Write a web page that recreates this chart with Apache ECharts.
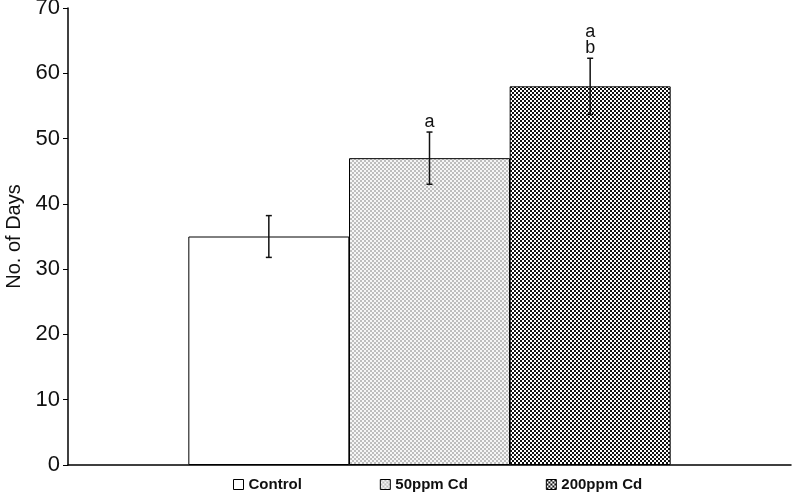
<!DOCTYPE html>
<html>
<head>
    <meta charset="UTF-8">
    <title>No. of Days</title>
    <style>
        body { margin: 0; background: #fff; }
        #chart { width: 793px; height: 494px; }
    </style>
    <script src="https://cdn.jsdelivr.net/npm/echarts@6/dist/echarts.min.js"></script>
</head>
<body>
    <div id="chart"></div>
    <script>
        // data
        const groups = ['Control', '50ppm Cd', '200ppm Cd'];
        const meanDays = [35, 47, 58];
        const errDays = [3.2, 4, 4.3];
        const sigLetters = ['', 'a', 'a\nb'];
        const yTicks = [0, 10, 20, 30, 40, 50, 60, 70];

        // checker fills like the old Excel patterns
        function checker(size, c1, c2) {
            const cv = document.createElement('canvas');
            cv.width = size * 2;
            cv.height = size * 2;
            const ctx = cv.getContext('2d');
            ctx.fillStyle = c1;
            ctx.fillRect(0, 0, size * 2, size * 2);
            ctx.fillStyle = c2;
            ctx.fillRect(0, 0, size, size);
            ctx.fillRect(size, size, size, size);
            return { image: cv, repeat: 'repeat' };
        }

        const fills = [
            '#ffffff',
            checker(2, '#f6f6f6', '#bdbdbd'),
            checker(2, '#ffffff', '#111111')
        ];

        const chart = echarts.init(document.getElementById('chart'));

        const barSeries = groups.map((name, i) => ({
            name: name,
            type: 'bar',
            barWidth: 161,
            barGap: '-100%',
            data: [[i + 1, meanDays[i]]],
            itemStyle: { color: fills[i], borderColor: '#000', borderWidth: 1 },
            z: 2
        }));

        const errSeries = {
            type: 'custom',
            z: 5,
            silent: true,
            data: groups.map((g, i) => [i + 1, meanDays[i] - errDays[i], meanDays[i] + errDays[i], i]),
            renderItem: function (params, api) {
                const lo = api.coord([api.value(0), api.value(1)]);
                const hi = api.coord([api.value(0), api.value(2)]);
                const idx = api.value(3);
                const cap = 3;
                const line = { stroke: '#111', lineWidth: 1.5 };
                const kids = [
                    { type: 'line', shape: { x1: hi[0], y1: hi[1], x2: lo[0], y2: lo[1] }, style: line },
                    { type: 'line', shape: { x1: hi[0] - cap, y1: hi[1], x2: hi[0] + cap, y2: hi[1] }, style: line },
                    { type: 'line', shape: { x1: lo[0] - cap, y1: lo[1], x2: lo[0] + cap, y2: lo[1] }, style: line }
                ];
                if (sigLetters[idx]) {
                    kids.push({
                        type: 'text',
                        style: {
                            text: sigLetters[idx],
                            x: hi[0],
                            y: hi[1] - 2,
                            align: 'center',
                            verticalAlign: 'bottom',
                            font: '18px Arial, "Liberation Sans", sans-serif',
                            lineHeight: 16,
                            fill: '#111'
                        }
                    });
                }
                return { type: 'group', children: kids };
            }
        };

        chart.setOption({
            animation: false,
            grid: { left: 68, right: 2, top: 8, bottom: 29, outerBoundsMode: 'none', containLabel: false },
            legend: {
                data: groups,
                bottom: -3,
                left: 228,
                itemGap: 78,
                itemWidth: 10,
                itemHeight: 10,
                icon: 'rect',
                textStyle: { fontFamily: 'Arial, "Liberation Sans", sans-serif', fontWeight: 'bold', fontSize: 15, color: '#111' },
                itemStyle: { borderColor: '#000', borderWidth: 1 }
            },
            xAxis: {
                type: 'value',
                min: -0.25,
                max: 4.25,
                splitLine: { show: false },
                axisTick: { show: false },
                axisLabel: { show: false },
                axisLine: { show: true, onZero: false, lineStyle: { color: '#000', width: 1.5 } }
            },
            yAxis: {
                type: 'value',
                min: yTicks[0],
                max: yTicks[yTicks.length - 1],
                interval: yTicks[1] - yTicks[0],
                name: 'No. of Days',
                nameLocation: 'middle',
                nameGap: 43,
                nameTextStyle: { fontFamily: 'Arial, "Liberation Sans", sans-serif', fontSize: 20, color: '#111' },
                splitLine: { show: false },
                axisLine: { show: true, onZero: false, lineStyle: { color: '#000', width: 1.5 } },
                axisTick: { show: true, length: 5, lineStyle: { color: '#000' } },
                axisLabel: { fontFamily: 'Arial, "Liberation Sans", sans-serif', fontSize: 22, color: '#111', margin: 8 }
            },
            series: barSeries.concat([errSeries])
        });
    </script>
</body>
</html>
